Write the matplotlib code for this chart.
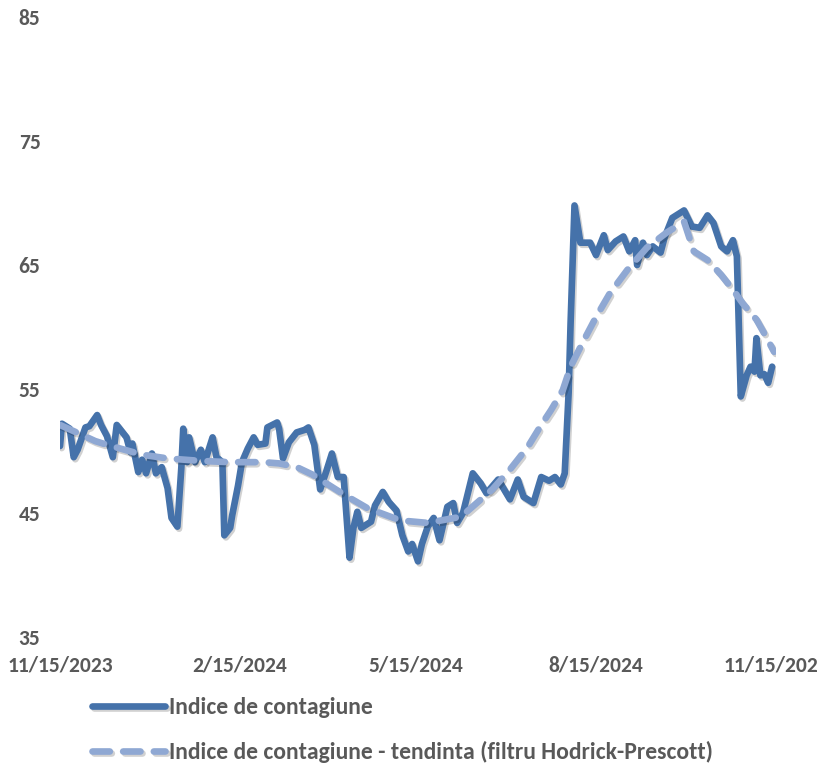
import matplotlib
matplotlib.use("Agg")
import matplotlib.pyplot as plt
import matplotlib.patheffects as pe
import pandas as pd

plt.rcParams['font.family'] = ['Carlito', 'Lato', 'DejaVu Sans']

# Contagion index (daily observations)
index_dates = [
    "2023-11-15", "2023-11-16", "2023-11-20", "2023-11-22", "2023-11-24", "2023-11-28",
    "2023-11-30", "2023-12-04", "2023-12-06", "2023-12-09", "2023-12-12", "2023-12-14",
    "2023-12-17", "2023-12-19", "2023-12-21", "2023-12-22", "2023-12-25", "2023-12-27",
    "2023-12-29", "2024-01-01", "2024-01-03", "2024-01-06", "2024-01-09", "2024-01-11",
    "2024-01-14", "2024-01-16", "2024-01-17", "2024-01-19", "2024-01-20", "2024-01-23",
    "2024-01-26", "2024-01-28", "2024-02-01", "2024-02-03", "2024-02-06", "2024-02-07",
    "2024-02-10", "2024-02-11", "2024-02-14", "2024-02-16", "2024-02-19", "2024-02-22",
    "2024-02-24", "2024-02-28", "2024-02-29", "2024-03-05", "2024-03-06", "2024-03-08",
    "2024-03-11", "2024-03-15", "2024-03-19", "2024-03-21", "2024-03-24", "2024-03-27",
    "2024-03-30", "2024-04-02", "2024-04-05", "2024-04-08", "2024-04-11", "2024-04-13",
    "2024-04-15", "2024-04-17", "2024-04-22", "2024-04-24", "2024-04-28", "2024-05-01",
    "2024-05-05", "2024-05-08", "2024-05-11", "2024-05-13", "2024-05-16", "2024-05-18",
    "2024-05-21", "2024-05-24", "2024-05-27", "2024-05-31", "2024-06-03", "2024-06-05",
    "2024-06-08", "2024-06-13", "2024-06-17", "2024-06-20", "2024-06-26", "2024-07-02",
    "2024-07-06", "2024-07-09", "2024-07-14", "2024-07-18", "2024-07-22", "2024-07-25",
    "2024-07-28", "2024-07-30", "2024-08-01", "2024-08-02", "2024-08-04", "2024-08-07",
    "2024-08-12", "2024-08-15", "2024-08-19", "2024-08-21", "2024-08-25", "2024-08-29",
    "2024-09-01", "2024-09-04", "2024-09-05", "2024-09-08", "2024-09-10", "2024-09-13",
    "2024-09-17", "2024-09-19", "2024-09-23", "2024-09-29", "2024-10-03", "2024-10-07",
    "2024-10-11", "2024-10-14", "2024-10-18", "2024-10-21", "2024-10-24", "2024-10-26",
    "2024-10-28", "2024-10-31", "2024-11-02", "2024-11-04", "2024-11-05", "2024-11-07",
    "2024-11-09", "2024-11-11", "2024-11-13",
]
index_values = [
    50.4, 52.2, 51.8, 49.5, 50.1, 51.9,
    52.0, 52.9, 52.1, 51.2, 49.5, 52.1,
    51.5, 51.1, 49.9, 50.6, 48.3, 49.3,
    48.2, 49.8, 48.2, 48.7, 47.0, 44.6,
    43.9, 48.6, 51.8, 49.1, 51.1, 49.1,
    50.1, 49.1, 51.1, 49.5, 49.1, 43.2,
    43.8, 44.8, 47.2, 49.1, 50.2, 51.1,
    50.5, 50.6, 51.9, 52.3, 51.8, 49.4,
    50.7, 51.5, 51.7, 51.9, 50.5, 46.9,
    48.3, 49.8, 47.9, 47.9, 41.4, 43.8,
    45.1, 43.8, 44.3, 45.6, 46.7, 45.9,
    45.2, 43.2, 41.9, 42.5, 41.1, 42.5,
    43.9, 44.6, 42.8, 45.5, 45.8, 44.2,
    45.0, 48.2, 47.4, 46.6, 47.7, 46.1,
    47.7, 46.3, 45.8, 47.9, 47.6, 47.9,
    47.3, 48.2, 54.7, 60.3, 69.8, 66.8,
    66.8, 65.8, 67.4, 66.2, 66.9, 67.3,
    66.1, 67.0, 65.0, 66.8, 65.8, 66.5,
    66.0, 67.2, 68.8, 69.4, 68.1, 68.0,
    69.0, 68.4, 66.5, 66.1, 67.0, 65.7,
    54.4, 56.1, 56.8, 56.4, 59.1, 56.1,
    56.2, 55.5, 56.8,
]

# Hodrick-Prescott trend of the index
trend_dates = [
    "2023-11-15", "2023-11-22", "2023-12-03", "2023-12-09", "2023-12-18", "2023-12-27",
    "2024-01-09", "2024-01-26", "2024-02-10", "2024-02-27", "2024-03-06", "2024-03-15",
    "2024-03-23", "2024-04-08", "2024-04-20", "2024-05-07", "2024-05-21", "2024-06-07",
    "2024-06-23", "2024-07-02", "2024-07-11", "2024-07-18", "2024-07-23", "2024-07-29",
    "2024-08-02", "2024-08-09", "2024-08-15", "2024-08-22", "2024-08-31", "2024-09-10",
    "2024-09-20", "2024-09-29", "2024-10-04", "2024-10-11", "2024-10-18", "2024-10-24",
    "2024-10-29", "2024-11-05", "2024-11-10", "2024-11-14",
]
trend_values = [
    52.1, 51.6, 50.8, 50.5, 50.1, 49.7,
    49.4, 49.2, 49.1, 49.1, 49.0, 48.7,
    48.1, 46.5, 45.4, 44.4, 44.2, 44.7,
    46.9, 48.5, 50.3, 52.1, 53.3, 54.9,
    56.8, 59.0, 60.8, 62.7, 64.6, 66.4,
    67.6, 68.5, 66.1, 65.4, 64.2, 63.0,
    61.9, 60.6, 59.2, 58.0,
]

x_ticks = ["2023-11-15", "2024-02-15", "2024-05-15", "2024-08-15", "2024-11-15"]
x_tick_labels = ["11/15/2023", "2/15/2024", "5/15/2024", "8/15/2024", "11/15/2024"]
y_ticks = [35, 45, 55, 65, 75, 85]

series_labels = ["Indice de contagiune",
                 "Indice de contagiune - tendinta (filtru Hodrick-Prescott)"]

text_color = "#595959"
solid_color = "#4572AA"
trend_color = "#8FA8D3"

fig = plt.figure(figsize=(8.17, 7.65), dpi=100)
ax = fig.add_axes([60 / 817, 1 - 637 / 765, (776 - 60) / 817, (637 - 17) / 765])

shadow = [pe.SimpleLineShadow(offset=(1.2, -1.5), shadow_color="black", alpha=0.18),
          pe.Normal()]

ax.plot(pd.to_datetime(index_dates), index_values, color=solid_color, lw=4.8,
        solid_joinstyle="round", solid_capstyle="round", path_effects=shadow,
        label=series_labels[0], zorder=2)
ax.plot(pd.to_datetime(trend_dates), trend_values, color=trend_color, lw=4.8,
        dashes=(2.6, 2.0), dash_capstyle="round", dash_joinstyle="round",
        path_effects=shadow, label=series_labels[1], zorder=3)

ax.set_xlim(pd.Timestamp("2023-11-15"), pd.Timestamp("2024-11-15"))
ax.set_ylim(35, 85)
ax.set_yticks(y_ticks)
ax.set_yticklabels([str(v) for v in y_ticks])
ax.set_xticks(pd.to_datetime(x_ticks))
ax.set_xticklabels(x_tick_labels)

for s in ax.spines.values():
    s.set_visible(False)
ax.tick_params(axis="both", length=0, colors=text_color, labelsize=15.5)
ax.tick_params(axis="y", pad=14)
ax.tick_params(axis="x", pad=13)
for lab in ax.get_xticklabels() + ax.get_yticklabels():
    lab.set_fontweight("bold")
    lab.set_clip_on(False)

leg = fig.legend(loc="upper left", bbox_to_anchor=(92 / 817, 1 - 697 / 765),
                 frameon=False, borderpad=0, borderaxespad=0, handlelength=3.1,
                 handletextpad=0.17, labelspacing=0.98,
                 prop={"weight": "bold", "size": 17})
for t in leg.get_texts():
    t.set_color(text_color)

fig.savefig("out.png", dpi=100)
